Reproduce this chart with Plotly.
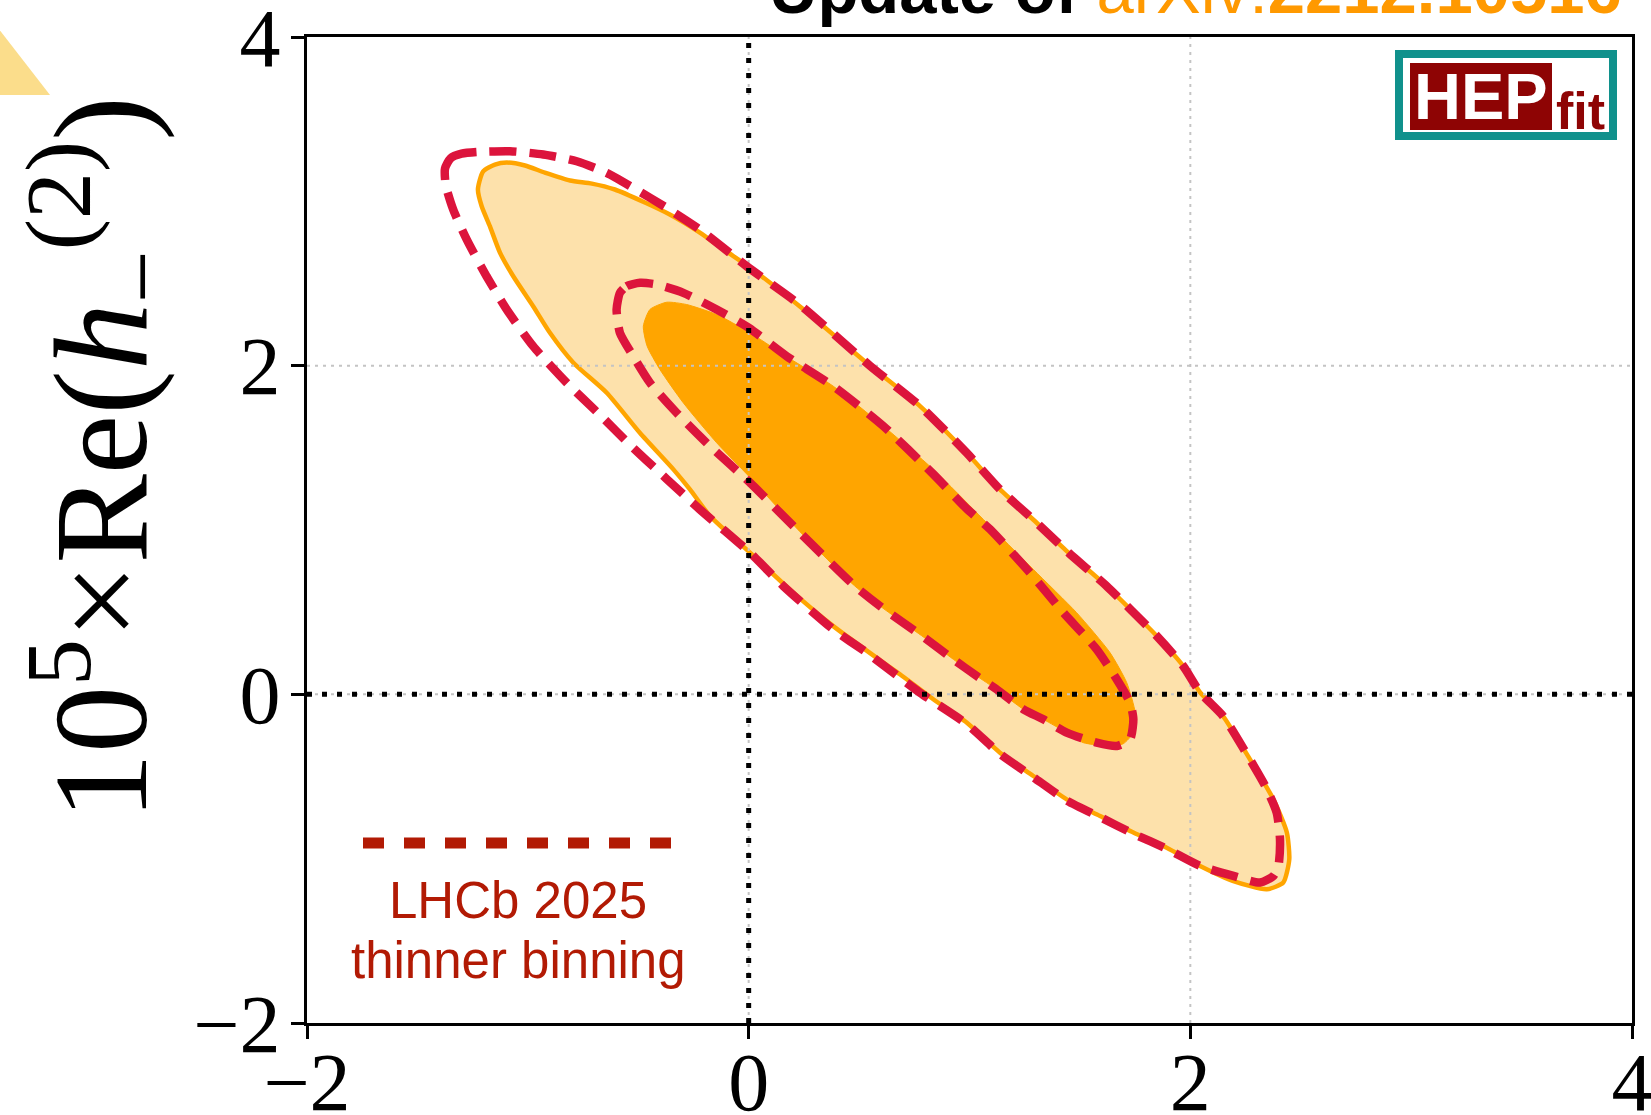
import plotly.graph_objects as go

# ---------------- data (in axis units) ----------------
# HEPfit 95% region (light orange, solid orange outline)
outer_x = [-1.226, -1.203, -1.149, -1.095, -1.013, -0.923, -0.809, -0.710, -0.606, -0.470,
           -0.357, -0.221, -0.107, 0.000, 0.232, 0.549, 0.776, 0.987, 1.138, 1.288,
           1.450, 1.621, 1.848, 1.968, 2.044, 2.148, 2.245, 2.376, 2.437, 2.448,
           2.421, 2.346, 2.195, 2.044, 1.893, 1.742, 1.591, 1.440, 1.289, 1.138,
           0.987, 0.836, 0.685, 0.610, 0.383, 0.202, 0.006, -0.175, -0.266, -0.341,
           -0.492, -0.643, -0.794, -0.900, -0.976, -1.066, -1.126, -1.172, -1.209, -1.226]
outer_y = [3.072, 3.181, 3.224, 3.236, 3.218, 3.175, 3.127, 3.108, 3.072, 2.993,
           2.920, 2.810, 2.701, 2.603, 2.360, 2.000, 1.754, 1.470, 1.247, 1.064,
           0.860, 0.659, 0.355, 0.172, 0.012, -0.132, -0.340, -0.639, -0.841, -1.004,
           -1.145, -1.186, -1.136, -1.044, -0.933, -0.841, -0.740, -0.639, -0.497, -0.355,
           -0.172, -0.030, 0.122, 0.193, 0.415, 0.619, 0.862, 1.085, 1.247, 1.369,
           1.590, 1.835, 2.018, 2.200, 2.362, 2.544, 2.687, 2.849, 2.970, 3.072]

# HEPfit 68% region (orange)
inner_x = [-0.477, -0.447, -0.371, -0.281, -0.145, 0.001, 0.157, 0.383, 0.610, 0.836,
           1.063, 1.289, 1.485, 1.636, 1.712, 1.750, 1.742, 1.697, 1.636, 1.515,
           1.440, 1.334, 1.244, 1.123, 1.033, 0.927, 0.806, 0.700, 0.595, 0.480,
           0.232, 0.006, -0.145, -0.296, -0.402, -0.460, -0.477]
inner_y = [2.240, 2.342, 2.386, 2.372, 2.311, 2.204, 2.068, 1.875, 1.632, 1.369,
           1.064, 0.760, 0.497, 0.254, 0.071, -0.111, -0.233, -0.300, -0.314, -0.294,
           -0.233, -0.152, -0.091, 0.030, 0.111, 0.213, 0.335, 0.436, 0.537, 0.660,
           0.990, 1.320, 1.531, 1.774, 1.977, 2.120, 2.240]

# LHCb 2025 thinner binning, 95% contour (dashed)
lhcb95_x = [-1.375, -1.350, -1.300, -1.232, -1.081, -0.930, -0.779, -0.643, -0.523, -0.371,
            -0.221, -0.009, 0.232, 0.549, 0.776, 0.987, 1.138, 1.288, 1.450, 1.621,
            1.848, 1.968, 2.044, 2.148, 2.245, 2.340, 2.391, 2.406, 2.399, 2.376,
            2.316, 2.195, 2.044, 1.893, 1.742, 1.591, 1.440, 1.289, 1.138, 0.987,
            0.776, 0.534, 0.383, 0.157, 0.006, -0.221, -0.371, -0.523, -0.673, -0.824,
            -0.976, -1.096, -1.187, -1.277, -1.338, -1.372, -1.375]
lhcb95_y = [3.200, 3.262, 3.290, 3.300, 3.305, 3.285, 3.244, 3.173, 3.082, 2.960,
            2.828, 2.605, 2.370, 2.000, 1.754, 1.470, 1.247, 1.064, 0.860, 0.659,
            0.355, 0.172, 0.012, -0.132, -0.340, -0.560, -0.720, -0.882, -1.044, -1.105,
            -1.145, -1.105, -1.044, -0.940, -0.848, -0.747, -0.646, -0.504, -0.362, -0.180,
            0.010, 0.254, 0.395, 0.659, 0.862, 1.125, 1.310, 1.500, 1.700, 1.896,
            2.119, 2.342, 2.544, 2.768, 2.950, 3.100, 3.200]

# LHCb 2025 thinner binning, 68% contour (dashed)
lhcb68_x = [-0.583, -0.553, -0.492, -0.417, -0.296, -0.145, 0.001, 0.172, 0.383, 0.610,
            0.836, 0.987, 1.093, 1.274, 1.425, 1.576, 1.667, 1.727, 1.742, 1.727,
            1.667, 1.576, 1.440, 1.334, 1.244, 1.123, 1.033, 0.927, 0.806, 0.700,
            0.595, 0.480, 0.232, 0.006, -0.175, -0.326, -0.447, -0.523, -0.583, -0.598,
            -0.583]
lhcb68_y = [2.443, 2.484, 2.504, 2.494, 2.443, 2.342, 2.230, 2.058, 1.875, 1.632,
            1.340, 1.130, 1.004, 0.740, 0.497, 0.274, 0.091, -0.051, -0.152, -0.274,
            -0.314, -0.294, -0.233, -0.152, -0.091, 0.030, 0.111, 0.213, 0.335, 0.436,
            0.537, 0.660, 0.984, 1.288, 1.510, 1.713, 1.896, 2.058, 2.200, 2.342,
            2.443]

axis_range = [-2, 4]
tick_vals = [-2, 0, 2, 4]
ref_lines = [0]          # black dotted reference lines
legend_lines = ["LHCb 2025", "thinner binning"]
title_parts = ["Update of ", "arXiv:", "2212.10516"]
y_label = "10<sup>5</sup>×Re(<i>h</i><sub>−</sub><sup>(2)</sup>)"

# ---------------- styling ----------------
W, H = 1651, 1115
ML, MR, MT, MB = 307, 19, 37, 92
PW, PH = W - ML - MR, H - MT - MB


def px(x):
    return (x - ML) / PW


def py(y):
    return (H - MB - y) / PH


ORANGE = "#FFA500"
LIGHT = "#FDE1AB"
CRIMSON = "#DC143C"
LEG_RED = "#B21A04"
TITLE_OR = "#FF9900"

fig = go.Figure()

fig.add_trace(go.Scatter(x=outer_x, y=outer_y, mode="lines", fill="toself",
                         fillcolor=LIGHT, line=dict(color=ORANGE, width=4.5, shape="spline", smoothing=0.6),
                         hoverinfo="skip", showlegend=False))
fig.add_trace(go.Scatter(x=inner_x, y=inner_y, mode="lines", fill="toself",
                         fillcolor=ORANGE, line=dict(color=ORANGE, width=1, shape="spline", smoothing=0.6),
                         hoverinfo="skip", showlegend=False))

# light grey dotted grid (drawn above the filled regions)
for v in tick_vals[1:-1]:
    fig.add_trace(go.Scatter(x=[v, v], y=axis_range, mode="lines",
                             line=dict(color="#C4C4C4", width=2, dash="3px,5px"),
                             hoverinfo="skip", showlegend=False))
    fig.add_trace(go.Scatter(x=axis_range, y=[v, v], mode="lines",
                             line=dict(color="#C4C4C4", width=2, dash="3px,5px"),
                             hoverinfo="skip", showlegend=False))

for cx, cy in [(lhcb95_x, lhcb95_y), (lhcb68_x, lhcb68_y)]:
    fig.add_trace(go.Scatter(x=cx, y=cy, mode="lines",
                             line=dict(color=CRIMSON, width=8.5, dash="27px,13px",
                                       shape="spline", smoothing=0.6),
                             hoverinfo="skip", showlegend=False))

for v in ref_lines:
    fig.add_trace(go.Scatter(x=[v, v], y=axis_range, mode="lines",
                             line=dict(color="black", width=5, dash="5px,10px"),
                             hoverinfo="skip", showlegend=False))
    fig.add_trace(go.Scatter(x=axis_range, y=[v, v], mode="lines",
                             line=dict(color="black", width=5, dash="5px,10px"),
                             hoverinfo="skip", showlegend=False))

axis_common = dict(range=axis_range, tickvals=tick_vals, showgrid=False, zeroline=False,
                   showline=True, mirror=True, linecolor="black", linewidth=3,
                   ticks="outside", ticklen=13, tickwidth=2.5, tickcolor="black",
                   tickfont=dict(family="Liberation Serif", size=82, color="black"),
                   automargin=False, ticklabeloverflow="allow", fixedrange=True)

fig.update_layout(
    width=W, height=H,
    margin=dict(l=ML, r=MR, t=MT, b=MB, autoexpand=False),
    paper_bgcolor="white", plot_bgcolor="white",
    xaxis=dict(**axis_common, ticklabelstandoff=-27),
    yaxis=dict(**axis_common, ticklabelstandoff=-6),
    showlegend=False,
)

shapes = []
# decorative triangle in the top-left corner
shapes.append(dict(type="path", xref="paper", yref="paper",
                   path=f"M {px(-5)},{py(24)} L {px(50)},{py(95)} L {px(-5)},{py(95)} Z",
                   fillcolor="#FBDD8B", line=dict(width=0), layer="above"))
# legend sample line
shapes.append(dict(type="line", xref="paper", yref="paper",
                   x0=px(363), x1=px(675), y0=py(843), y1=py(843),
                   line=dict(color=LEG_RED, width=11, dash="21px,20px"), layer="above"))
# HEPfit logo
shapes.append(dict(type="rect", xref="paper", yref="paper",
                   x0=px(1399), x1=px(1613), y0=py(136), y1=py(54),
                   fillcolor="white", line=dict(color="#10918C", width=8), layer="above"))
shapes.append(dict(type="rect", xref="paper", yref="paper",
                   x0=px(1410), x1=px(1552), y0=py(130), y1=py(63),
                   fillcolor="#8E0404", line=dict(width=0), layer="above"))
fig.update_layout(shapes=shapes)

ann = []
ann.append(dict(xref="paper", yref="paper", x=px(1195), y=py(-10), xanchor="center", yanchor="middle",
                showarrow=False,
                text=f"<b>{title_parts[0]}</b><span style='color:{TITLE_OR}'>{title_parts[1]}<b>{title_parts[2]}</b></span>",
                font=dict(family="Liberation Sans", size=67, color="black")))
ann.append(dict(xref="paper", yref="paper", x=px(100), y=py(458), xanchor="center", yanchor="middle",
                showarrow=False, textangle=-90, text=y_label,
                font=dict(family="Liberation Serif", size=134, color="black")))
for txt, yy in zip(legend_lines, [900, 960]):
    ann.append(dict(xref="paper", yref="paper", x=px(518), y=py(yy), xanchor="center", yanchor="middle",
                    showarrow=False, align="center", text=txt,
                    font=dict(family="Liberation Sans", size=51, color=LEG_RED)))
ann.append(dict(xref="paper", yref="paper", x=px(1481), y=py(97), xanchor="center", yanchor="middle",
                showarrow=False, text="<b>HEP</b>",
                font=dict(family="Liberation Sans", size=65, color="white")))
ann.append(dict(xref="paper", yref="paper", x=px(1580), y=py(111), xanchor="center", yanchor="middle",
                showarrow=False, text="<b>fit</b>",
                font=dict(family="Liberation Sans", size=52, color="#8E0404")))
fig.update_layout(annotations=ann)

fig.write_html("out.html")
